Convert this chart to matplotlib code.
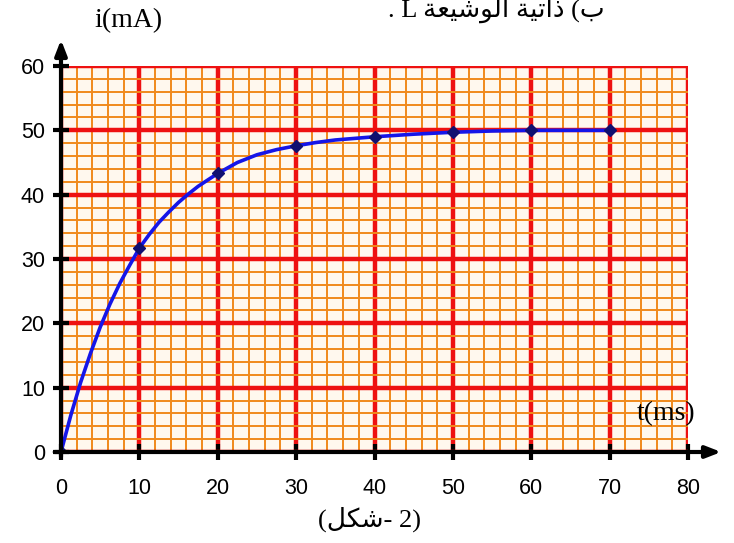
import matplotlib
matplotlib.use("Agg")
import matplotlib.pyplot as plt
from matplotlib.ticker import MultipleLocator

# data
t_points = [0, 10, 20, 30, 40, 50, 60, 70]
i_points = [0, 31.7, 43.3, 47.6, 49, 49.7, 50, 50]
# smooth curve
t_curve = [0, 1.25, 2.5, 3.75, 5, 6.25, 7.5, 8.75, 10, 11.25, 12.5, 13.75, 15, 16.25, 17.5, 18.75,
           20, 22.5, 25, 27.5, 30, 32.5, 35, 40, 45, 50, 55, 60, 65, 70]
i_curve = [0, 5.7, 10.8, 15.3, 19.4, 23.0, 26.2, 29.0, 31.7, 33.8, 35.7, 37.3, 38.8, 40.1, 41.3, 42.3,
           43.3, 45.0, 46.2, 47.0, 47.6, 48.1, 48.5, 49.0, 49.4, 49.7, 49.9, 50, 50, 50]
x_ticks = [0, 10, 20, 30, 40, 50, 60, 70, 80]
y_ticks = [0, 10, 20, 30, 40, 50, 60]

fig = plt.figure(figsize=(7.34, 5.43), dpi=100)
ax = fig.add_axes([61/734, 1-452/543, 627/734, 386/543])
ax.set_xlim(0, 80)
ax.set_ylim(0, 60)
ax.set_facecolor("#FFF8EE")

ax.xaxis.set_minor_locator(MultipleLocator(2))
ax.yaxis.set_minor_locator(MultipleLocator(2))
ax.set_xticks(x_ticks)
ax.set_yticks(y_ticks)
ax.grid(which="minor", color="#F08A1C", linewidth=1.4, zorder=1)
ax.grid(which="major", color="#EE1111", linewidth=3.2, zorder=2)
ax.set_axisbelow(True)

for s in ["top", "right", "left", "bottom"]:
    ax.spines[s].set_visible(False)

ax.plot(t_curve, i_curve, color="#1515E8", linewidth=2.6, zorder=4,
        solid_capstyle="round", solid_joinstyle="round")
ax.plot(t_points, i_points, linestyle="none", marker="D", markersize=6.5, color="#101070", zorder=5)

# axes with arrows
arrow_kw = dict(arrowstyle="-|>,head_length=0.9,head_width=0.35", color="black", lw=3, shrinkA=0, shrinkB=0)
ax.annotate("", xy=(0, 1.068), xycoords="axes fraction", xytext=(0, -0.012),
            textcoords="axes fraction", arrowprops=arrow_kw, annotation_clip=False, zorder=6)
ax.annotate("", xy=(1.053, 0), xycoords="axes fraction", xytext=(-0.01, 0),
            textcoords="axes fraction", arrowprops=arrow_kw, annotation_clip=False, zorder=6)

ax.tick_params(which="major", direction="inout", length=11, width=3, color="black",
               labelsize=15.5)
ax.tick_params(axis="x", which="major", pad=13)
ax.tick_params(axis="y", which="major", pad=6)
ax.tick_params(which="minor", length=0)
for lab in ax.get_xticklabels() + ax.get_yticklabels():
    lab.set_family(["Liberation Sans Narrow", "Liberation Sans"])

serif = ["Liberation Serif", "DejaVu Serif"]
fig.text(128/734, 1-21/543, "i(mA)", ha="center", va="center", fontsize=20, family=serif)
fig.text(666/734, 1-414/543, "t(ms)", ha="center", va="center", fontsize=20, family=serif)

# "(شكل- 2)" in visual order with presentation forms
caption = "(" + "\uFEDE\uFEDC\uFEB7" + "- 2)"
fig.text(370/734, 1-519/543, caption, ha="center", va="center", fontsize=19,
         family=["Liberation Serif", "DejaVu Sans"])

# top clipped line: "ب) ذاتية الوشيعة L ."
w1 = "\uFE94\uFECC\uFEF4\uFEB7\uFEEE\uFEDF\uFE8D"
w2 = "\uFE94\uFEF4\uFE97\uFE8D\uFEAB"
top = ". L " + w1 + " " + w2 + " (\uFE8F"
fig.text(605/734, 1-17/543, top, ha="right", va="baseline", fontsize=19,
         family=["Liberation Serif", "DejaVu Sans"])

fig.savefig("out.png", dpi=100)
